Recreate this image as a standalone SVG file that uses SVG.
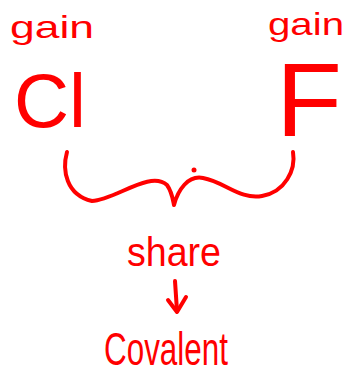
<svg xmlns="http://www.w3.org/2000/svg" width="349" height="376" viewBox="0 0 349 376">
<style>
.t{font-family:"Liberation Sans","DejaVu Sans",sans-serif;fill:#ff0000;}
.s{fill:none;stroke:#ff0000;stroke-linecap:round;stroke-linejoin:round;}
</style>
<rect width="349" height="376" fill="#ffffff"/>
<g id="gain-left"><text class="t" x="10" y="38" font-size="32" textLength="84" lengthAdjust="spacingAndGlyphs">gain</text></g>
<g id="gain-right"><text class="t" x="268" y="35" font-size="32" textLength="76" lengthAdjust="spacingAndGlyphs">gain</text></g>
<g id="cl"><text class="t" x="14" y="127" font-size="76" textLength="72" lengthAdjust="spacingAndGlyphs">Cl</text></g>
<g id="f"><text class="t" x="276" y="136" font-size="104" textLength="66" lengthAdjust="spacingAndGlyphs">F</text></g>
<g id="connectors">
<path class="s" stroke-width="4" d="M67,152 C62,170 66,195 92,201 C115,200 150,170 167,185 C172,192 173,200 174,205 C178,190 188,175 203,178 C225,182 240,200 262,196 C285,192 296,170 293,152"/>
<circle cx="194" cy="170" r="2.5" fill="#ff0000"/>
<path class="s" stroke-width="4" d="M175,281 L177,311"/>
<path class="s" stroke-width="4" d="M168,300 L177,312 L186,297"/>
</g>
<g id="share"><text class="t" x="127" y="266" font-size="40" textLength="94" lengthAdjust="spacingAndGlyphs">share</text></g>
<g id="covalent"><text class="t" x="104" y="365" font-size="46" textLength="124" lengthAdjust="spacingAndGlyphs">Covalent</text></g>
</svg>
